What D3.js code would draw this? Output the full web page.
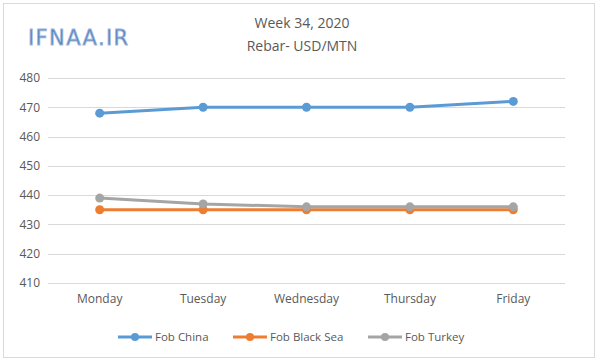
<!DOCTYPE html>
<html><head><meta charset="utf-8">
<script src="https://cdn.jsdelivr.net/npm/d3@7"></script>
<style>body{margin:0;background:#fff}svg{display:block}</style>
</head><body>
<svg id="c" width="600" height="362"></svg>
<script>
const days = ["Monday","Tuesday","Wednesday","Thursday","Friday"];
const fobChina = [468, 470, 470, 470, 472];
const fobBlackSea = [435, 435, 435, 435, 435];
const fobTurkey = [439, 437, 436, 436, 436];
const yTicks = [410, 420, 430, 440, 450, 460, 470, 480];
const seriesNames = ["Fob China", "Fob Black Sea", "Fob Turkey"];
const seriesColors = ["#5b9bd5", "#ed7d31", "#a5a5a5"];
const titleLines = ["Week 34, 2020", "Rebar- USD/MTN"];

const svg = d3.select("#c");
const font = "'Open Sans', 'Noto Sans', sans-serif";
svg.append("rect").attr("x",3.5).attr("y",3.5).attr("width",591).attr("height",354)
  .attr("fill","#fff").attr("stroke","#d9d9d9");

const x = d3.scaleBand().domain(days).range([48, 565]);
const y = d3.scaleLinear().domain([410, 480]).range([283, 78]);

// grid
svg.append("g").selectAll("line").data(yTicks).join("line")
  .attr("x1",48).attr("x2",565).attr("y1",d=>Math.round(y(d))+0.5).attr("y2",d=>Math.round(y(d))+0.5)
  .attr("stroke","#d9d9d9").attr("stroke-width",1);

const yAxis = svg.append("g").attr("transform","translate(40,0)")
  .call(d3.axisLeft(y).tickValues(yTicks).tickSize(0).tickPadding(0));
yAxis.select(".domain").remove();
yAxis.selectAll("text").attr("fill","#595959").style("font-family",font).style("font-size","12px");

const xAxis = svg.append("g").attr("transform","translate(0,294)")
  .call(d3.axisBottom(x).tickSize(0).tickPadding(0));
xAxis.select(".domain").remove();
xAxis.selectAll("text").attr("fill","#595959").style("font-family",font).style("font-size","12px");

const data = [fobChina, fobBlackSea, fobTurkey];
const line = d3.line().x((d,i)=>x(days[i])+x.bandwidth()/2).y(d=>y(d));
data.forEach((vals, si) => {
  const g = svg.append("g");
  g.append("path").datum(vals).attr("d", line).attr("fill","none")
    .attr("stroke", seriesColors[si]).attr("stroke-width", 3).attr("stroke-linejoin","round");
  g.selectAll("circle").data(vals).join("circle")
    .attr("cx",(d,i)=>x(days[i])+x.bandwidth()/2).attr("cy",d=>y(d)).attr("r",4.5)
    .attr("fill", seriesColors[si]);
});

// title
svg.append("g").selectAll("text").data(titleLines).join("text")
  .attr("x",302).attr("y",(d,i)=>28 + i*23).attr("text-anchor","middle")
  .attr("fill","#595959").style("font-family",font).style("font-size","14px").text(d=>d);

// logo
svg.append("text").attr("x",28).attr("y",45).text("IFNAA.IR")
  .attr("fill","#4f81c7").attr("stroke","#9fb6d6").attr("stroke-width",0.8)
  .style("font-family","'DejaVu Sans', sans-serif").style("font-size","21px").style("letter-spacing","1.4px");

// legend
const legX = [118, 233, 368];
const leg = svg.append("g");
seriesNames.forEach((n, i) => {
  const g = leg.append("g").attr("transform",`translate(${legX[i]},337)`);
  g.append("line").attr("x1",0).attr("x2",34).attr("y1",0).attr("y2",0)
    .attr("stroke",seriesColors[i]).attr("stroke-width",3);
  g.append("circle").attr("cx",17).attr("cy",0).attr("r",4).attr("fill",seriesColors[i]);
  g.append("text").attr("x",37).attr("y",4).text(n).attr("fill","#595959")
    .style("font-family",font).style("font-size","11.5px");
});
</script>
</body></html>
